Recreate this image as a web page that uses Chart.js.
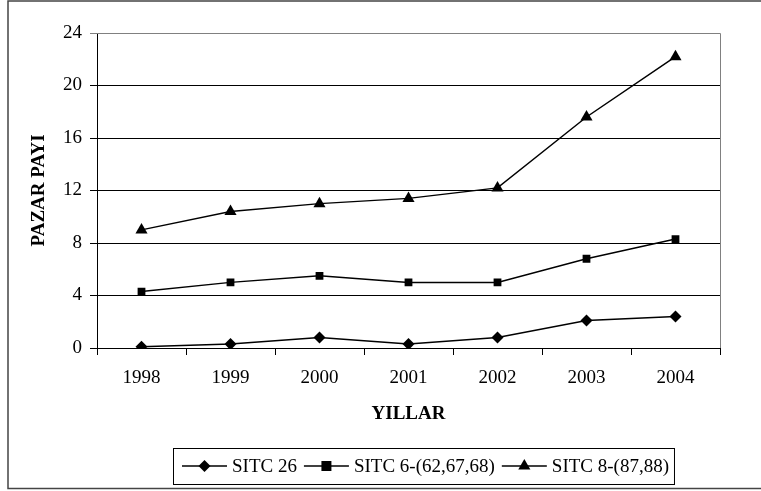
<!DOCTYPE html>
<html>
<head>
<meta charset="utf-8">
<script src="https://cdn.jsdelivr.net/npm/chart.js@4/dist/chart.umd.min.js"></script>
<style>
  html, body { margin: 0; padding: 0; background: #fff; }
  #wrap { position: relative; width: 761px; height: 491px; }
</style>
</head>
<body>
<div id="wrap"><canvas id="chart"></canvas></div>
<script>
const years = ["1998", "1999", "2000", "2001", "2002", "2003", "2004"];
const sitc26 = [0.1, 0.3, 0.8, 0.3, 0.8, 2.1, 2.4];
const sitc6 = [4.3, 5.0, 5.5, 5.0, 5.0, 6.8, 8.3];
const sitc8 = [9.0, 10.4, 11.0, 11.4, 12.2, 17.6, 22.2];
const seriesNames = ["SITC 26", "SITC 6-(62,67,68)", "SITC 8-(87,88)"];

const FONT = "'Liberation Serif', 'Times New Roman', serif";
Chart.defaults.font.family = FONT;
Chart.defaults.font.size = 19;
Chart.defaults.color = "#000";

function drawMarker(ctx, style, x, y) {
  ctx.beginPath();
  if (style === "rectRot") {
    const r = 6;
    ctx.moveTo(x, y - r);
    ctx.lineTo(x + r, y);
    ctx.lineTo(x, y + r);
    ctx.lineTo(x - r, y);
  } else if (style === "rect") {
    ctx.rect(x - 5, y - 5, 10, 10);
  } else {
    const r = 7;
    for (let i = 0; i < 3; i++) {
      const a = i * 2 * Math.PI / 3;
      const px = x + Math.sin(a) * r;
      const py = y - Math.cos(a) * r;
      if (i === 0) ctx.moveTo(px, py); else ctx.lineTo(px, py);
    }
  }
  ctx.closePath();
  ctx.fill();
}

// outer frame, gray top/right of the plot, and the line+marker legend
const framePlugin = {
  id: "frame",
  afterDraw(chart) {
    const ctx = chart.ctx;
    const a = chart.chartArea;
    ctx.save();
    ctx.strokeStyle = "#808080";
    ctx.lineWidth = 1;
    ctx.beginPath();
    ctx.moveTo(a.left, a.top + 0.5);
    ctx.lineTo(a.right + 0.5, a.top + 0.5);
    ctx.lineTo(a.right + 0.5, a.bottom);
    ctx.stroke();

    ctx.strokeStyle = "#444";
    ctx.lineWidth = 1.5;
    ctx.strokeRect(8, 1, 800, 487.5);

    // legend
    const styles = ["rectRot", "rect", "triangle"];
    ctx.font = "19px " + FONT;
    const boxLeft = 173, boxTop = 448, boxH = 36;
    const lineLen = 45, gapText = 5, gapNext = 7, padL = 9;
    let x = boxLeft + padL;
    const cy = boxTop + boxH / 2;
    const items = [];
    seriesNames.forEach((name, i) => {
      items.push({ x, name, style: styles[i] });
      x += lineLen + gapText + ctx.measureText(name).width + gapNext;
    });
    const boxRight = x - gapNext + 5;
    ctx.fillStyle = "#fff";
    ctx.fillRect(boxLeft, boxTop, boxRight - boxLeft, boxH);
    ctx.strokeStyle = "#000";
    ctx.lineWidth = 1;
    ctx.strokeRect(boxLeft + 0.5, boxTop + 0.5, boxRight - boxLeft, boxH);
    ctx.fillStyle = "#000";
    ctx.textBaseline = "middle";
    ctx.textAlign = "left";
    items.forEach((it) => {
      ctx.lineWidth = 1.5;
      ctx.beginPath();
      ctx.moveTo(it.x, cy);
      ctx.lineTo(it.x + lineLen, cy);
      ctx.stroke();
      drawMarker(ctx, it.style, it.x + lineLen / 2, cy);
      ctx.fillText(it.name, it.x + lineLen + gapText, cy + 1);
    });
    ctx.restore();
  },
};

function lineSet(label, data, style, radius) {
  return {
    label,
    data,
    borderColor: "#000",
    backgroundColor: "#000",
    borderWidth: 1.5,
    pointStyle: style,
    pointRadius: radius,
    pointBorderWidth: 0,
    tension: 0,
  };
}

new Chart(document.getElementById("chart"), {
  type: "line",
  data: {
    labels: years,
    datasets: [
      lineSet(seriesNames[0], sitc26, "rectRot", 6),
      lineSet(seriesNames[1], sitc6, "rect", 5.5),
      lineSet(seriesNames[2], sitc8, "triangle", 7),
    ],
  },
  options: {
    responsive: true,
    maintainAspectRatio: false,
    animation: false,
    layout: { padding: { left: 0, top: 33, right: 41, bottom: 63 } },
    plugins: { legend: { display: false }, tooltip: { enabled: false } },
    scales: {
      x: {
        type: "category",
        offset: true,
        afterFit: (s) => { s.height = 80; },
        grid: { offset: true, drawOnChartArea: false, drawTicks: true, tickLength: 7, color: "#000" },
        border: { color: "#000", width: 1 },
        ticks: { padding: 12, maxRotation: 0 },
        title: {
          display: true,
          text: "YILLAR",
          font: { size: 19, weight: "bold" },
          padding: { bottom: 3 },
        },
      },
      y: {
        min: 0,
        max: 24,
        afterFit: (s) => { s.width = 97; },
        ticks: { stepSize: 4, padding: 8 },
        grid: {
          color: (c) => (c.tick && c.tick.value === 24 ? "#808080" : "#000"),
          tickLength: 7,
        },
        border: { color: "#000", width: 1 },
        title: {
          display: true,
          text: "PAZAR PAYI",
          font: { size: 19, weight: "bold" },
          padding: { top: 28 },
        },
      },
    },
  },
  plugins: [framePlugin],
});
</script>
</body>
</html>
